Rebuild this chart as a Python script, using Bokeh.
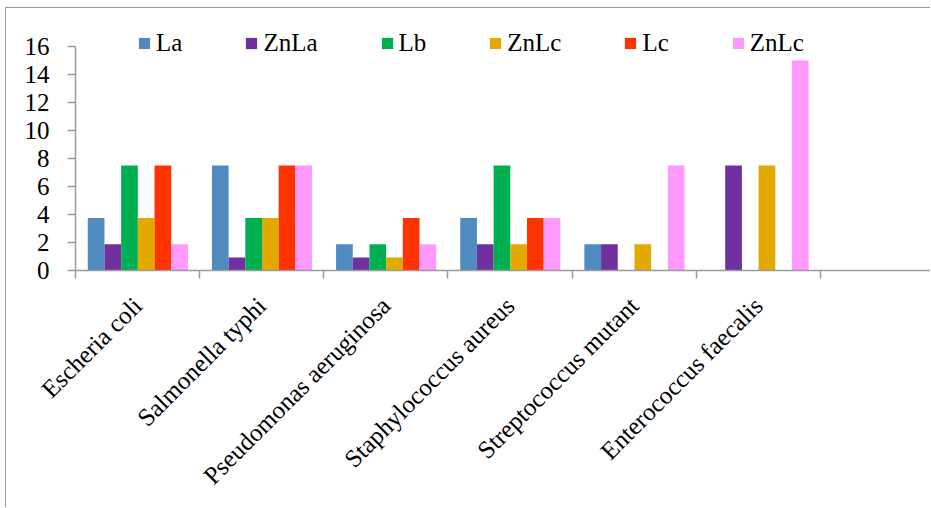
import numpy as np
from math import pi
from bokeh.plotting import figure
from bokeh.models import Range1d, FixedTicker, Legend, LegendItem
from bokeh.embed import file_html
from bokeh.resources import INLINE

categories = ["Escheria coli", "Salmonella typhi", "Pseudomonas aeruginosa",
              "Staphylococcus aureus", "Streptococcus mutant", "Enterococcus faecalis"]
series_names = ["La", "ZnLa", "Lb", "ZnLc", "Lc", "ZnLc"]
La = [3.75, 7.5, 1.875, 3.75, 1.875, 0]
ZnLa = [1.875, 0.9375, 0.9375, 1.875, 1.875, 7.5]
Lb = [7.5, 3.75, 1.875, 7.5, 0, 0]
ZnLc_a = [3.75, 3.75, 0.9375, 1.875, 1.875, 7.5]
Lc = [7.5, 7.5, 3.75, 3.75, 0, 0]
ZnLc_b = [1.875, 7.5, 1.875, 3.75, 7.5, 15]
y_ticks = [0, 2, 4, 6, 8, 10, 12, 14, 16]

series = [La, ZnLa, Lb, ZnLc_a, Lc, ZnLc_b]
colors = ["#4F8BBF", "#7030A0", "#00B050", "#E2AA00", "#FF3300", "#FF99FF"]

FONT = "Liberation Serif"
n_slots = 7
x_end = 6.895

p = figure(width=925, height=500, output_backend="svg", toolbar_location=None,
           x_range=Range1d(0, x_end), y_range=Range1d(0, 17.5),
           min_border_left=69, min_border_top=17, min_border_bottom=238, min_border_right=0)
p.styles = {"margin-left": "5px", "margin-top": "7px",
            "border-left": "1.5px solid #9a9a9a", "border-top": "1.5px solid #9a9a9a"}
p.outline_line_color = None
p.xgrid.grid_line_color = None
p.ygrid.grid_line_color = None

bar_w = 0.1344
group_off = 0.099
idx = np.arange(len(categories))
renderers = []
for k, (vals, col) in enumerate(zip(series, colors)):
    xs = idx + group_off + (k + 0.5) * bar_w
    r = p.vbar(x=xs, top=vals, width=bar_w, bottom=0, fill_color=col, line_color=None)
    renderers.append(r)

# y axis
ya = p.yaxis[0]
ya.ticker = FixedTicker(ticks=y_ticks, minor_ticks=[])
ya.bounds = (0, 16)
ya.major_tick_out = 8
ya.major_tick_in = 0
ya.minor_tick_out = 0
ya.minor_tick_in = 0
ya.axis_line_color = "#9a9a9a"
ya.axis_line_width = 1.5
ya.major_tick_line_color = "#9a9a9a"
ya.major_tick_line_width = 1.5
ya.major_label_text_font = FONT
ya.major_label_text_font_size = "25px"
ya.major_label_text_color = "black"
ya.major_label_standoff = 18

# x axis
xa = p.xaxis[0]
centers = [i + 0.5 for i in range(len(categories))]
xa.ticker = FixedTicker(ticks=centers, minor_ticks=list(range(n_slots + 1)))
xa.major_label_overrides = {c: name for c, name in zip(centers, categories)}
xa.major_tick_out = 0
xa.major_tick_in = 0
xa.minor_tick_out = 8
xa.minor_tick_in = 0
xa.minor_tick_line_color = "#9a9a9a"
xa.minor_tick_line_width = 1.5
xa.axis_line_color = "#9a9a9a"
xa.axis_line_width = 1.5
xa.major_label_orientation = pi / 4
xa.major_label_text_font = FONT
xa.major_label_text_font_size = "25px"
xa.major_label_text_color = "black"
xa.major_label_standoff = 23

items = [LegendItem(label=nm, renderers=[r]) for nm, r in zip(series_names, renderers)]
legend = Legend(items=items, orientation="horizontal", location=(62, 213),
                glyph_width=14, glyph_height=14, label_standoff=5, spacing=62,
                padding=0, margin=0, border_line_color=None, background_fill_alpha=0,
                label_text_font=FONT, label_text_font_size="25px", label_text_color="black")
p.add_layout(legend)

open("out.html", "w").write(file_html(p, INLINE))
